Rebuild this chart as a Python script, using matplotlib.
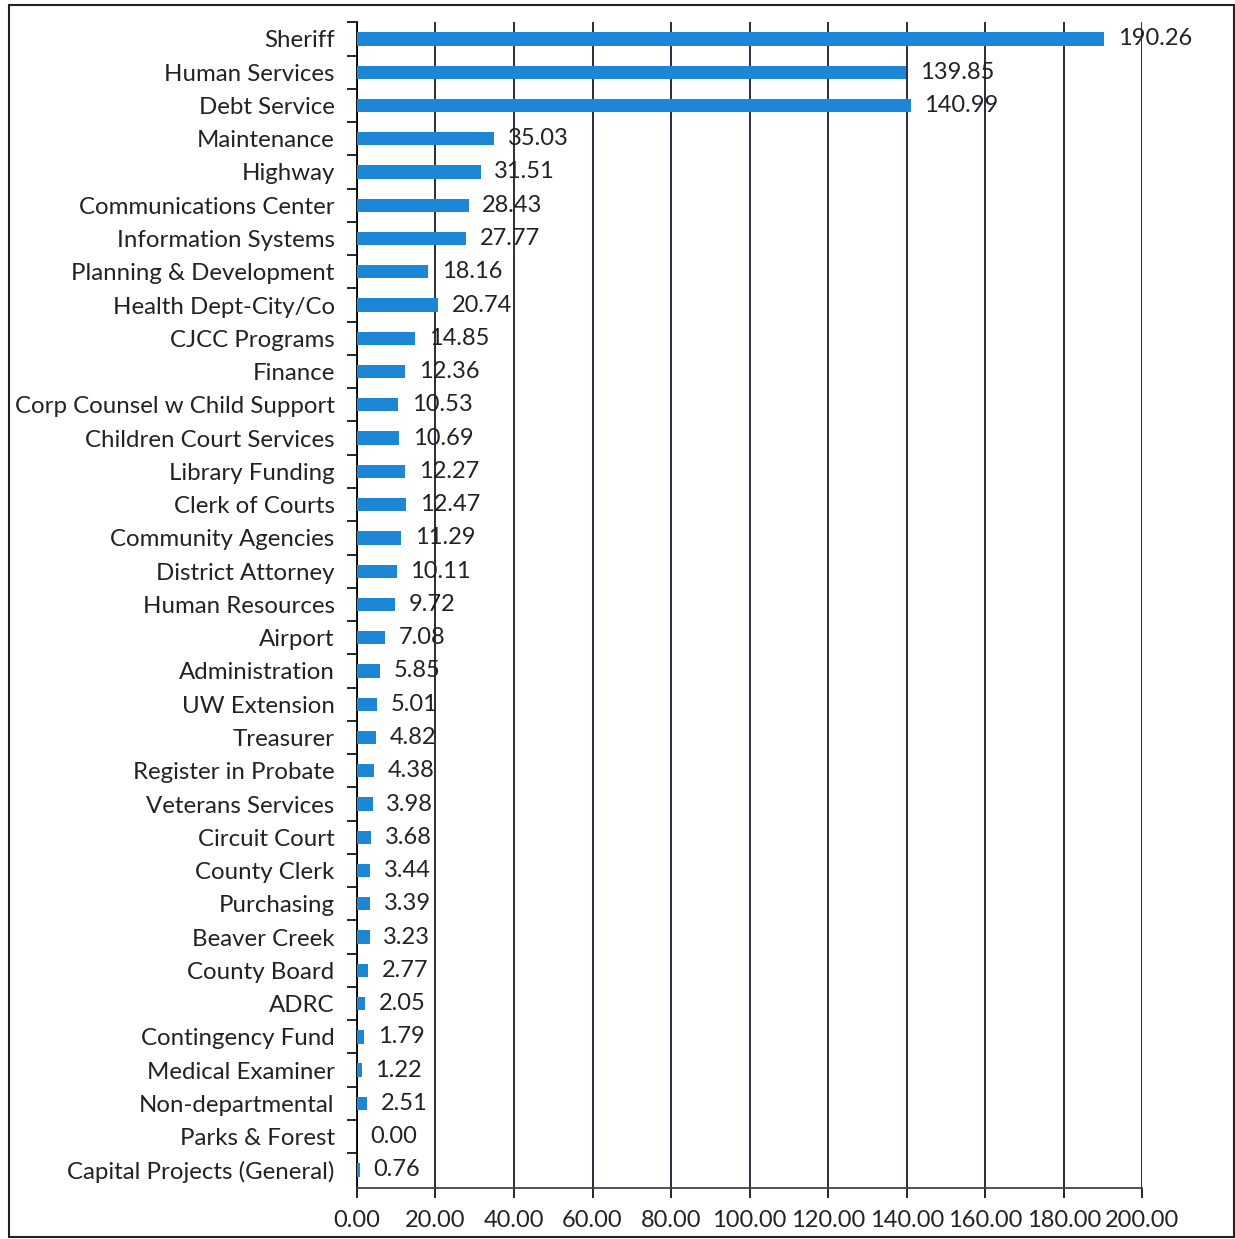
import matplotlib.pyplot as plt
from matplotlib.patches import Rectangle

depts = ["Sheriff", "Human Services", "Debt Service", "Maintenance", "Highway",
         "Communications Center", "Information Systems", "Planning & Development",
         "Health Dept-City/Co", "CJCC Programs", "Finance", "Corp Counsel w Child Support",
         "Children Court Services", "Library Funding", "Clerk of Courts",
         "Community Agencies", "District Attorney", "Human Resources", "Airport",
         "Administration", "UW Extension", "Treasurer", "Register in Probate",
         "Veterans Services", "Circuit Court", "County Clerk", "Purchasing",
         "Beaver Creek", "County Board", "ADRC", "Contingency Fund",
         "Medical Examiner", "Non-departmental", "Parks & Forest",
         "Capital Projects (General)"]
values = [190.26, 139.85, 140.99, 35.03, 31.51, 28.43, 27.77, 18.16, 20.74, 14.85,
          12.36, 10.53, 10.69, 12.27, 12.47, 11.29, 10.11, 9.72, 7.08, 5.85, 5.01,
          4.82, 4.38, 3.98, 3.68, 3.44, 3.39, 3.23, 2.77, 2.05, 1.79, 1.22, 2.51,
          0.00, 0.76]
xticks = [0, 20, 40, 60, 80, 100, 120, 140, 160, 180, 200]

plt.rcParams['font.family'] = ['Lato', 'DejaVu Sans']

fig = plt.figure(figsize=(12.35, 12.39), dpi=100)
ax = fig.add_axes([0.289, 0.041, 0.636, 0.941])

pos = list(range(len(depts)))
ax.barh(pos, values, height=0.4, color="#1e86d6", zorder=3)
for p, v in zip(pos, values):
    ax.text(v + 3.5, p, "%.2f" % v, va="center", ha="left", fontsize=17,
            color="#222222", zorder=4)

ax.set_yticks(pos)
ax.set_yticklabels(depts, fontsize=17.3, color="#222222")
ax.set_ylim(len(depts) - 0.45, -0.5)
ax.set_xlim(0, 200)
ax.set_xticks(xticks)
ax.set_xticklabels(["%.2f" % t for t in xticks], fontsize=17, color="#222222")
ax.set_yticks([p + 0.5 for p in pos[:-1]] + [-0.5], minor=True)
ax.tick_params(axis="y", which="major", length=0, pad=16)
ax.tick_params(axis="y", which="minor", length=7, width=1.2, direction="out")
ax.tick_params(axis="x", length=7, width=1.2, pad=9)
ax.grid(axis="x", color="#1a1a2e", linewidth=1.3, zorder=1)

for s in ["top", "right"]:
    ax.spines[s].set_visible(False)
ax.spines["left"].set_linewidth(1.3)
ax.spines["bottom"].set_linewidth(1.3)
ax.spines["bottom"].set_color("#444444")

fig.patches.append(Rectangle((0.007, 0.002), 0.992, 0.994, transform=fig.transFigure,
                             fill=False, edgecolor="#222222", linewidth=1.5))

fig.savefig("out.png", dpi=100)
